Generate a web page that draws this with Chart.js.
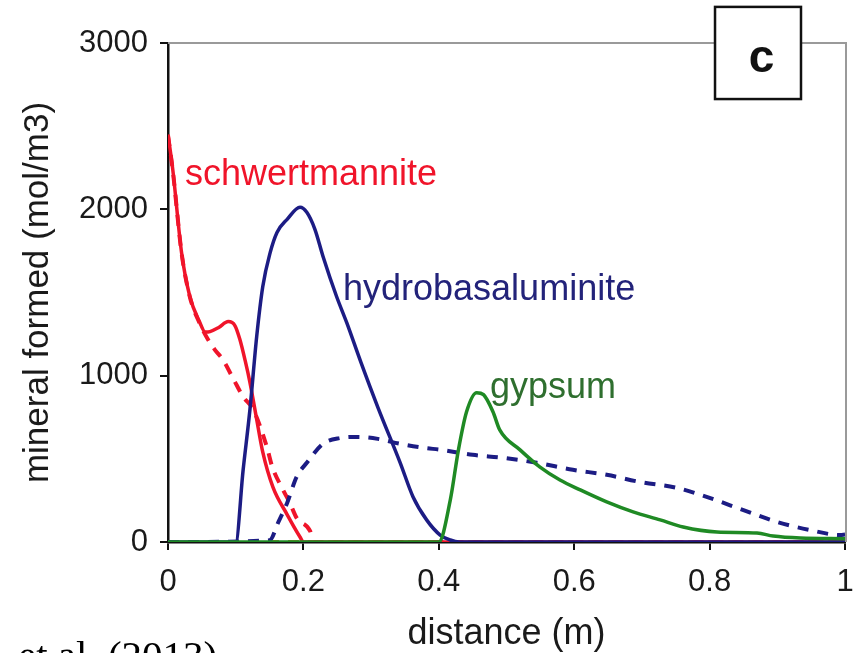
<!DOCTYPE html>
<html>
<head>
<meta charset="utf-8">
<script src="https://cdn.jsdelivr.net/npm/chart.js@4"></script>
<style>
  html, body { margin: 0; padding: 0; background: #fff; }
  #wrap { width: 855px; height: 653px; }
</style>
</head>
<body>
<div id="wrap"><canvas id="c" width="855" height="653"></canvas></div>
<script>
// ---- data ----
const xTicks = [0, 0.2, 0.4, 0.6, 0.8, 1];
const xTickLabels = ['0', '0.2', '0.4', '0.6', '0.8', '1'];
const yTicks = [0, 1000, 2000, 3000];
const yTickLabels = ['0', '1000', '2000', '3000'];

const schwDist = [0, 0.007, 0.02, 0.032, 0.047, 0.055, 0.062, 0.075, 0.089, 0.099, 0.106, 0.114, 0.121, 0.13, 0.14, 0.155, 0.176, 0.195, 0.2, 0.3, 0.5, 1.0];
const schwVal  = [2450, 2240, 1740, 1480, 1320, 1262, 1265, 1290, 1325, 1300, 1220, 1090, 960, 760, 540, 330, 165, 30, 0, 0, 0, 0];

const schwDashDist = [0, 0.007, 0.02, 0.032, 0.047, 0.058, 0.069, 0.081, 0.096, 0.111, 0.126, 0.146, 0.154, 0.17, 0.18, 0.19, 0.21, 0.215, 0.4, 1.0];
const schwDashVal  = [2445, 2235, 1740, 1478, 1312, 1225, 1157, 1096, 985, 873, 795, 572, 452, 313, 235, 145, 65, 0, 0, 0];

const hydroDist = [0, 0.1, 0.111, 0.121, 0.131, 0.14, 0.151, 0.161, 0.176, 0.195, 0.205, 0.217, 0.229, 0.249, 0.264, 0.285, 0.31, 0.343, 0.362, 0.382, 0.402, 0.417, 0.43, 1.0];
const hydroVal  = [0, 0, 434, 795, 1235, 1536, 1741, 1861, 1940, 2012, 1982, 1880, 1717, 1476, 1319, 1080, 810, 476, 271, 133, 42, 12, 0, 0];

const hydroDashDist = [0, 0.15, 0.163, 0.176, 0.19, 0.205, 0.229, 0.254, 0.28, 0.31, 0.343, 0.38, 0.402, 0.45, 0.495, 0.545, 0.598, 0.648, 0.697, 0.752, 0.8, 0.849, 0.9, 0.948, 0.993, 1.0];
const hydroDashVal  = [0, 10, 120, 235, 392, 476, 590, 625, 632, 620, 590, 565, 555, 524, 506, 476, 434, 404, 361, 325, 265, 193, 120, 72, 42, 45];

const gypDist = [0, 0.4, 0.417, 0.429, 0.441, 0.456, 0.466, 0.48, 0.49, 0.52, 0.549, 0.579, 0.609, 0.648, 0.687, 0.727, 0.761, 0.811, 0.87, 0.894, 0.934, 1.0];
const gypVal  = [0, 0, 253, 554, 783, 898, 886, 783, 674, 554, 452, 373, 313, 241, 181, 133, 90, 60, 54, 36, 24, 20];

const gypDashDist = [0, 1.0];
const gypDashVal  = [0, 0];

// ---- styles ----
const RED = '#f0142a', BLUE = '#1c1c84', GREEN = '#1f8a24';
const FONT = '"Liberation Sans", Arial, Helvetica, sans-serif';
const TXT = '#1a1a1a';

const curveLabels = [
  { text: 'schwertmannite',    x: 0.0251, y: 2148, color: RED },
  { text: 'hydrobasaluminite', x: 0.2585, y: 1456, color: '#23237a' },
  { text: 'gypsum',            x: 0.4756, y: 866,  color: '#2f6f2f' }
];
const panelBox = { x0: 0.808, x1: 0.935, y0: 3217, y1: 2663, text: 'c', tx: 0.8767, ty: 2828 };

function pts(xs, ys) { return xs.map((x, i) => ({ x: x, y: ys[i] })); }

function ds(label, xs, ys, color, dashed) {
  return {
    label: label,
    data: pts(xs, ys),
    borderColor: color,
    backgroundColor: color,
    borderWidth: dashed ? 4 : 3.5,
    borderDash: dashed ? [11, 9] : [],
    pointRadius: 0,
    fill: false,
    cubicInterpolationMode: 'monotone',
    borderCapStyle: 'butt',
    borderJoinStyle: 'round'
  };
}

const bgPlugin = {
  id: 'bg',
  beforeDraw(chart) {
    const ctx = chart.ctx;
    ctx.save();
    ctx.fillStyle = '#fff';
    ctx.fillRect(0, 0, chart.width, chart.height);
    ctx.restore();
  },
  beforeDatasetsDraw(chart) {
    const { ctx, chartArea: a } = chart;
    ctx.save();
    ctx.strokeStyle = '#9a9a9a';
    ctx.lineWidth = 2;
    ctx.beginPath();
    ctx.moveTo(a.left, a.top);
    ctx.lineTo(a.right + 1, a.top);
    ctx.lineTo(a.right + 1, a.bottom);
    ctx.stroke();
    ctx.restore();
  },
  afterDraw(chart) {
    const { ctx, scales: { x, y } } = chart;
    ctx.save();
    // curve labels
    ctx.font = '36px ' + FONT;
    ctx.textAlign = 'left';
    ctx.textBaseline = 'alphabetic';
    curveLabels.forEach(l => {
      ctx.fillStyle = l.color;
      ctx.fillText(l.text, x.getPixelForValue(l.x), y.getPixelForValue(l.y));
    });
    // panel box
    const bx0 = x.getPixelForValue(panelBox.x0), bx1 = x.getPixelForValue(panelBox.x1);
    const by0 = y.getPixelForValue(panelBox.y0), by1 = y.getPixelForValue(panelBox.y1);
    ctx.fillStyle = '#fff';
    ctx.fillRect(bx0, by0, bx1 - bx0, by1 - by0);
    ctx.strokeStyle = '#111';
    ctx.lineWidth = 2.5;
    ctx.strokeRect(bx0, by0, bx1 - bx0, by1 - by0);
    ctx.fillStyle = '#111';
    ctx.font = 'bold 46px ' + FONT;
    ctx.textAlign = 'center';
    ctx.fillText(panelBox.text, x.getPixelForValue(panelBox.tx), y.getPixelForValue(panelBox.ty));
    // citation fragment at the bottom edge
    ctx.font = '41px "Liberation Serif", "Times New Roman", serif';
    ctx.textAlign = 'left';
    ctx.fillStyle = '#000';
    ctx.fillText('et al. (2013)', 18, 669);
    ctx.restore();
  }
};

new Chart(document.getElementById('c'), {
  type: 'line',
  data: {
    datasets: [
      ds('gypsum', gypDist, gypVal, GREEN, false),
      ds('hydrobasaluminite', hydroDist, hydroVal, BLUE, false),
      ds('schwertmannite', schwDist, schwVal, RED, false),
      ds('hydrobasaluminite (dashed)', hydroDashDist, hydroDashVal, BLUE, true),
      ds('schwertmannite (dashed)', schwDashDist, schwDashVal, RED, true),
      ds('gypsum (dashed)', gypDashDist, gypDashVal, '#c0862a', true)
    ]
  },
  plugins: [bgPlugin],
  options: {
    responsive: false,
    animation: false,
    events: [],
    layout: { padding: { top: 43, right: 10, left: 0, bottom: 0 } },
    plugins: { legend: { display: false }, tooltip: { enabled: false } },
    scales: {
      x: {
        type: 'linear',
        min: 0, max: 1,
        afterBuildTicks: s => { s.ticks = xTicks.map(v => ({ value: v })); },
        afterFit: s => { s.height = 111; s.paddingLeft = 0; s.paddingRight = 0; },
        ticks: {
          callback: (v) => xTickLabels[xTicks.indexOf(v)],
          font: { family: FONT, size: 31 },
          color: TXT,
          padding: 14,
          maxRotation: 0,
          autoSkip: false
        },
        grid: { drawOnChartArea: false, drawTicks: true, tickLength: 8, color: '#111', lineWidth: 2 },
        border: { display: true, color: '#111', width: 2.5 },
        title: { display: true, text: 'distance (m)', font: { family: FONT, size: 36 }, color: TXT, padding: { top: 0, bottom: -3 } }
      },
      y: {
        type: 'linear',
        min: 0, max: 3000,
        afterBuildTicks: s => { s.ticks = yTicks.map(v => ({ value: v })); },
        afterFit: s => { s.width = 168; s.paddingTop = 0; s.paddingBottom = 0; },
        ticks: {
          callback: (v) => yTickLabels[yTicks.indexOf(v)],
          font: { family: FONT, size: 31 },
          color: TXT,
          padding: 12,
          autoSkip: false
        },
        grid: { drawOnChartArea: false, drawTicks: true, tickLength: 8, color: '#111', lineWidth: 2 },
        border: { display: true, color: '#111', width: 2.5 },
        title: { display: true, text: 'mineral formed (mol/m3)', font: { family: FONT, size: 35 }, color: TXT, padding: { top: 17, bottom: 0 } }
      }
    }
  }
});
</script>
</body>
</html>
